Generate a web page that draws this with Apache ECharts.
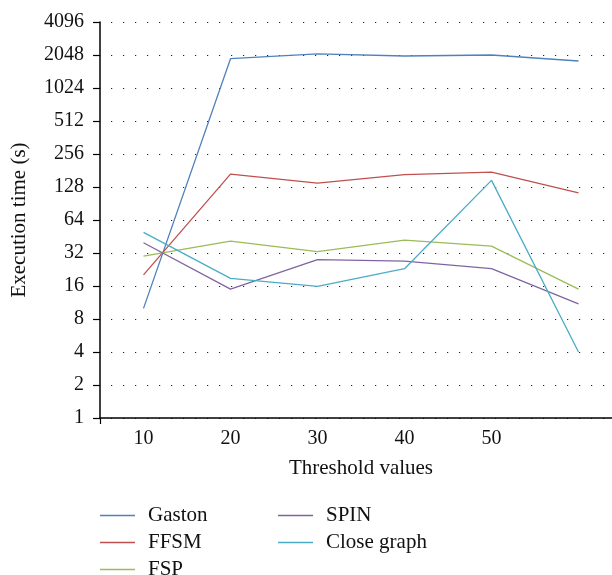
<!DOCTYPE html>
<html>
<head>
<meta charset="utf-8">
<script src="https://cdn.jsdelivr.net/npm/echarts@6/dist/echarts.min.js"></script>
<style>
  html, body { margin: 0; padding: 0; background: #fff; }
  #chart { width: 612px; height: 575px; }
</style>
</head>
<body>
<div id="chart"></div>
<script>
// threshold values (last point is unlabelled in the source figure)
var thresholds = ['10', '20', '30', '40', '50', ''];

// execution time (s)
var gaston = [10, 1896, 2100, 2005, 2048, 1805];
var ffsm = [20.2, 168, 139, 166, 175, 113];
var fsp = [30, 41, 33, 42, 37, 15];
var spin = [39.7, 15, 27.8, 27, 23, 11];
var closeGraph = [49.4, 18.8, 15.9, 23, 147, 4];

var seriesNames = ['Gaston', 'FFSM', 'FSP', 'SPIN', 'Close graph'];
var seriesData = [gaston, ffsm, fsp, spin, closeGraph];
var colors = ['#4F81BD', '#C0504D', '#9BBB59', '#8064A2', '#4BACC6'];

var font = 'Liberation Serif, DejaVu Serif, serif';
var chart = echarts.init(document.getElementById('chart'));

function legendColumn(left, names) {
  return {
    orient: 'vertical',
    left: left,
    top: 505,
    height: 100,
    padding: 0,
    icon: 'rect',
    itemWidth: 35,
    itemHeight: 1.5,
    itemGap: 6,
    data: names,
    textStyle: {fontFamily: font, fontSize: 21, color: '#111', padding: [0, 0, 0, 8]}
  };
}

chart.setOption({
  animation: false,
  color: colors,
  grid: {left: 100, top: 22, right: -10, bottom: 157, outerBoundsMode: 'none'},
  legend: [
    legendColumn(100, seriesNames.slice(0, 3)),
    legendColumn(278, seriesNames.slice(3))
  ],
  xAxis: {
    type: 'category',
    data: thresholds,
    boundaryGap: true,
    name: 'Threshold values',
    nameLocation: 'middle',
    nameGap: 40,
    nameTextStyle: {fontFamily: font, fontSize: 21, color: '#111'},
    axisLine: {lineStyle: {color: '#000', width: 1.5}},
    // only the corner tick under the y axis is drawn in the original
    axisTick: {
      show: true, length: 6,
      interval: function(index) { return index === 0; },
      lineStyle: {color: '#000', width: 1.2}
    },
    axisLabel: {fontFamily: font, fontSize: 20, color: '#111', margin: 11},
    splitLine: {show: false}
  },
  yAxis: {
    type: 'log',
    logBase: 2,
    min: 1,
    max: 4096,
    interval: 1,
    name: 'Execution time (s)',
    nameLocation: 'middle',
    nameGap: 70,
    nameTextStyle: {fontFamily: font, fontSize: 21, color: '#111'},
    axisLine: {show: true, lineStyle: {color: '#000', width: 1.5}},
    axisTick: {show: true, length: 7, lineStyle: {color: '#000', width: 1.2}},
    axisLabel: {
      fontFamily: font, fontSize: 20, color: '#111', margin: 16,
      formatter: function(v) { return String(Math.round(v)); }
    },
    splitLine: {show: true, lineStyle: {color: '#222', width: 1.2, type: [1.2, 10.8], dashOffset: -11}}
  },
  series: seriesData.map(function(data, i) {
    return {
      name: seriesNames[i],
      type: 'line',
      data: data,
      symbol: 'none',
      lineStyle: {width: 1.3}
    };
  })
});
</script>
</body>
</html>
